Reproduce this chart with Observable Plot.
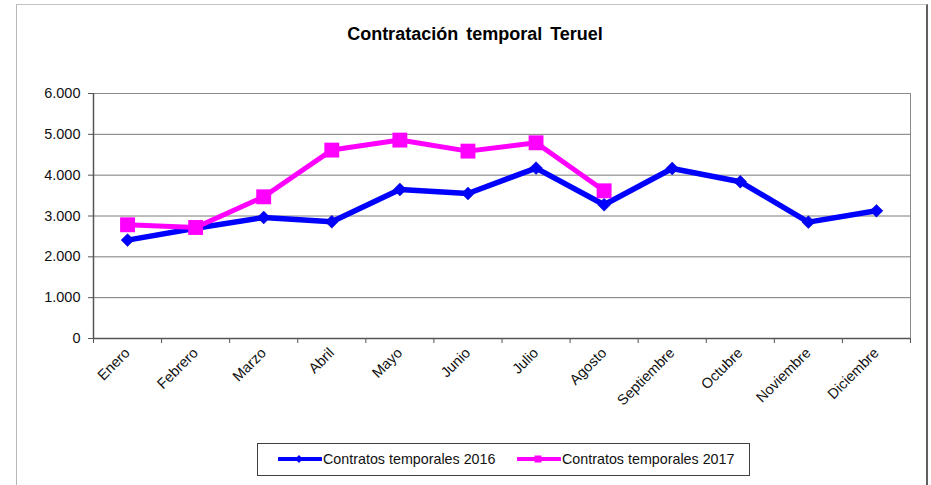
<!DOCTYPE html>
<html>
<head>
<meta charset="utf-8">
<script src="https://cdn.jsdelivr.net/npm/d3@7"></script>
<script src="https://cdn.jsdelivr.net/npm/@observablehq/plot@0.6"></script>
<style>
  html, body { margin: 0; padding: 0; background: #fff; }
  #wrap { position: relative; width: 931px; height: 485px; overflow: hidden; font-family: "Liberation Sans", Arial, sans-serif; }
  #border { position: absolute; left: 16px; top: 4px; width: 909px; height: 500px;
            border-left: 1px solid #b8b8b8; border-top: 1px solid #c4c4c4; border-right: 2px solid #606060; }
  #title { position: absolute; left: 0; width: 950px; top: 24px; text-align: center;
           font-weight: bold; font-size: 18px; word-spacing: 3px; color: #000; }
  #legend { position: absolute; left: 257px; top: 443px; width: 493px; height: 33px;
            border: 1px solid #404040; box-sizing: border-box; font-size: 14.3px; color: #111; }
  .item { position: absolute; top: 7px; display: flex; align-items: center; white-space: nowrap; }
  #chart { position: absolute; left: 0; top: 0; }
</style>
</head>
<body>
<div id="wrap">
  <div id="border"></div>
  <div id="chart"></div>
  <div id="title">Contratación temporal Teruel</div>
  <div id="legend"></div>
</div>
<script>
const months = ["Enero", "Febrero", "Marzo", "Abril", "Mayo", "Junio", "Julio", "Agosto", "Septiembre", "Octubre", "Noviembre", "Diciembre"];
const values2016 = [2410, 2700, 2964, 2858, 3650, 3552, 4173, 3275, 4164, 3838, 2850, 3127];
const values2017 = [2785, 2719, 3470, 4614, 4859, 4589, 4793, 3617];
const yTicks = [0, 1000, 2000, 3000, 4000, 5000, 6000];
const seriesNames = ["Contratos temporales 2016", "Contratos temporales 2017"];
const colors = ["#0000FF", "#FF00FF"];

const data2016 = values2016.map((v, i) => ({i, month: months[i], v}));
const data2017 = values2017.map((v, i) => ({i, month: months[i], v}));

const locale = d3.formatLocale({decimal: ",", thousands: ".", grouping: [3], currency: ["", "€"]});
const fmt = locale.format(",d");

const chart = Plot.plot({
  width: 931,
  height: 485,
  marginTop: 93,
  marginBottom: 147,
  marginLeft: 93,
  marginRight: 21,
  style: {background: "transparent", fontFamily: "'Liberation Sans', Arial, sans-serif", fontSize: "13px", color: "#111"},
  x: {type: "linear", domain: [-0.5, months.length - 0.5], axis: null},
  y: {domain: [0, 6000], axis: null},
  marks: [
    Plot.gridY(yTicks, {stroke: "#7a7a7a", strokeOpacity: 1, strokeWidth: 1}),
    Plot.frame({stroke: "#8a8a8a", strokeWidth: 1}),
    Plot.axisY({ticks: yTicks, tickFormat: fmt, tickSize: 5, tickPadding: 8, stroke: "#555", fontSize: 14.5, label: null}),
    Plot.axisX({ticks: d3.range(-0.5, months.length, 1), tickFormat: () => "", tickSize: 5, stroke: "#555", label: null}),
    Plot.axisX({ticks: d3.range(months.length), tickFormat: i => months[i], tickSize: 0, tickPadding: 12, tickRotate: -45, fontSize: 14.5, label: null}),
    Plot.ruleY([0], {stroke: "#555", strokeWidth: 1.5}),
    Plot.ruleX([-0.5], {stroke: "#555", strokeWidth: 1.5}),
    Plot.line(data2016, {x: "i", y: "v", stroke: colors[0], strokeWidth: 5.5}),
    Plot.dot(data2016, {x: "i", y: "v", symbol: "diamond2", r: 5.8, fill: colors[0], stroke: "#0000b0", strokeWidth: 0.5}),
    Plot.line(data2017, {x: "i", y: "v", stroke: colors[1], strokeWidth: 5}),
    Plot.dot(data2017, {x: "i", y: "v", symbol: "square", r: 8.4, fill: colors[1]})
  ]
});
document.getElementById("chart").appendChild(chart);

// legend
const legend = document.getElementById("legend");
const lefts = [20, 259];
seriesNames.forEach((name, k) => {
  const item = document.createElement("div");
  item.className = "item";
  item.style.left = lefts[k] + "px";
  const marker = k === 0
    ? `<path d="M21,-4 L25,0 L21,4 L17,0 Z" fill="${colors[0]}"/>`
    : `<rect x="17.5" y="-3.5" width="7" height="7" fill="${colors[1]}"/>`;
  item.innerHTML = `<svg width="44" height="14" viewBox="0 -7 44 14" style="margin-right:1px"><line x1="1" y1="0" x2="43" y2="0" stroke="${colors[k]}" stroke-width="4" stroke-linecap="round"/>${marker}</svg><span>${name}</span>`;
  legend.appendChild(item);
});
</script>
</body>
</html>
